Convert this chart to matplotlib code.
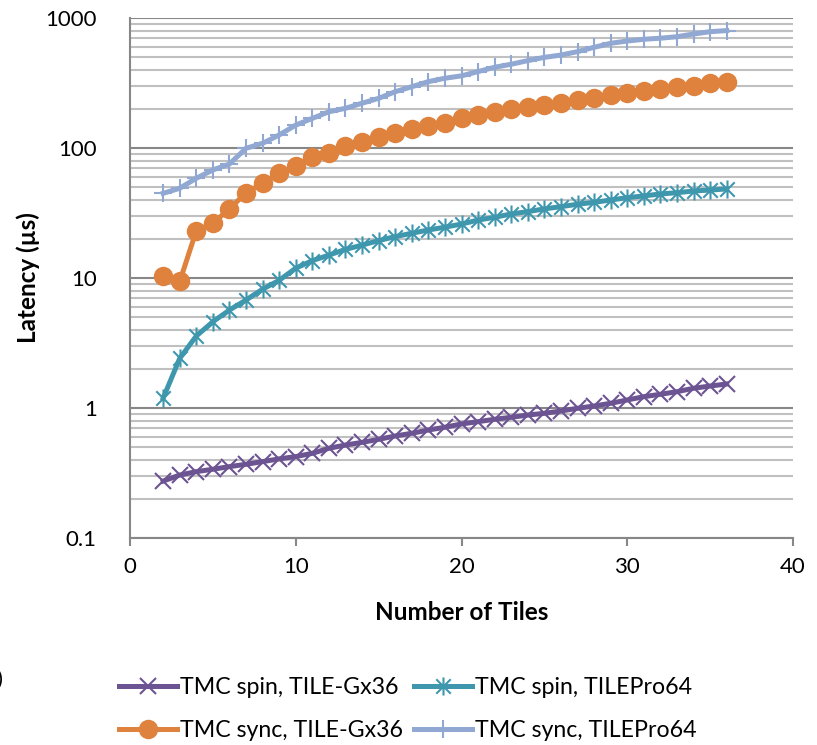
import matplotlib
matplotlib.use("Agg")
import matplotlib.pyplot as plt
from matplotlib.path import Path
from matplotlib.ticker import LogLocator, FixedLocator, NullFormatter

plt.rcParams['font.family'] = ['Lato', 'DejaVu Sans']

tiles = list(range(2, 37))

spin_gx36 = [0.274, 0.305, 0.324, 0.338, 0.354, 0.369, 0.387, 0.406, 0.423, 0.448,
             0.490, 0.519, 0.544, 0.574, 0.609, 0.639, 0.677, 0.711, 0.754, 0.785,
             0.819, 0.848, 0.883, 0.910, 0.948, 0.995, 1.036, 1.087, 1.153, 1.222,
             1.275, 1.335, 1.418, 1.476, 1.53]

spin_pro64 = [1.19, 2.41, 3.58, 4.61, 5.67, 6.77, 8.2, 9.6, 11.9, 13.6,
              15.0, 16.6, 17.9, 19.4, 20.8, 22.1, 23.4, 24.6, 26.0, 27.9,
              29.3, 31.1, 32.4, 34.0, 35.4, 36.9, 38.2, 39.8, 41.5, 42.8,
              44.3, 45.3, 46.7, 47.5, 48.4]

sync_gx36 = [10.4, 9.4, 23.1, 26.4, 34.0, 45.3, 53.5, 63.8, 72.7, 85.8,
             91.0, 103.5, 111.7, 122, 131, 139, 148, 157, 169, 179,
             190, 198, 206, 214, 223, 234, 241, 256, 267, 276,
             283, 293, 300, 315, 324]

sync_pro64 = [44.8, 49, 58.5, 67.8, 75.3, 99.5, 108.7, 126, 150, 169,
              190, 202, 221, 241, 271, 296, 324, 344, 359, 387,
              418, 441, 470, 498, 519, 551, 595, 639, 665, 686,
              699, 718, 753, 785, 800]

labels = ["TMC spin, TILE-Gx36", "TMC spin, TILEPro64",
          "TMC sync, TILE-Gx36", "TMC sync, TILEPro64"]
colors = ["#6C5392", "#3F97AE", "#DE823E", "#90A8D2"]

x_ticks = [0, 10, 20, 30, 40]
y_ticks = [0.1, 1, 10, 100, 1000]
y_tick_labels = ["0.1", "1", "10", "100", "1000"]

# asterisk marker: x plus vertical bar
star_path = Path([(-1, -1), (1, 1), (-1, 1), (1, -1), (0, -1.25), (0, 1.25)],
                 [Path.MOVETO, Path.LINETO, Path.MOVETO, Path.LINETO, Path.MOVETO, Path.LINETO])

W, H = 817, 745
fig = plt.figure(figsize=(W / 100, H / 100), dpi=100)
ax = fig.add_axes([130 / W, 1 - 538 / H, (793 - 130) / W, (538 - 18) / H])

ax.set_yscale('log')
ax.set_xlim(0, 40)
ax.set_ylim(0.1, 1000)

lw = 3.6
h0, = ax.plot(tiles, spin_gx36, color=colors[0], lw=lw, marker='x', ms=11, mew=1.5,
              label=labels[0], zorder=5)
h1, = ax.plot(tiles, spin_pro64, color=colors[1], lw=lw, marker=star_path, ms=13, mew=1.5,
              label=labels[1], zorder=5)
h2, = ax.plot(tiles, sync_gx36, color=colors[2], lw=lw, marker='o', ms=14, mew=0,
              label=labels[2], zorder=5)
h3, = ax.plot(tiles, sync_pro64, color=colors[3], lw=lw, marker='+', ms=13, mew=1.5,
              label=labels[3], zorder=5)

# grid
ax.yaxis.set_major_locator(FixedLocator(y_ticks))
ax.set_yticklabels(y_tick_labels)
ax.yaxis.set_minor_locator(LogLocator(base=10, subs=range(2, 10)))
ax.yaxis.set_minor_formatter(NullFormatter())
ax.grid(True, which='major', axis='y', color='#878787', lw=1.5, zorder=0)
ax.grid(True, which='minor', axis='y', color='#C0C0C0', lw=1.5, zorder=0)
ax.set_axisbelow(True)

ax.set_xticks(x_ticks)
for s in ['top', 'right']:
    ax.spines[s].set_visible(False)
for s in ['left', 'bottom']:
    ax.spines[s].set_color('#878787')
    ax.spines[s].set_linewidth(1.5)
ax.tick_params(axis='y', which='both', length=0, labelsize=16, pad=24)
ax.tick_params(axis='x', which='major', length=6, width=1.5, color='#878787',
               labelsize=16, pad=8, direction='out')

ax.set_xlabel("Number of Tiles", fontsize=17.5, fontweight='bold')
ax.set_ylabel("Latency (µs)", fontsize=17.5, fontweight='bold')
ax.xaxis.label.set_va('center')
ax.yaxis.label.set_va('center')
ax.xaxis.set_label_coords(0.5, (538 - 613) / 520)
ax.yaxis.set_label_coords((28 - 130) / 663, 0.5)

fig.legend([h0, h2, h1, h3], [labels[0], labels[2], labels[1], labels[3]],
           loc='center', bbox_to_anchor=(408 / W, 1 - 709 / H), ncol=2,
           frameon=False, fontsize=16.7, handlelength=2.5, handletextpad=0.15,
           columnspacing=0.45, labelspacing=0.95, borderaxespad=0, borderpad=0)

fig.text(-0.004, 1 - 680 / H, ")", fontsize=16, ha='left', va='center')

fig.savefig("out.png", dpi=100)
